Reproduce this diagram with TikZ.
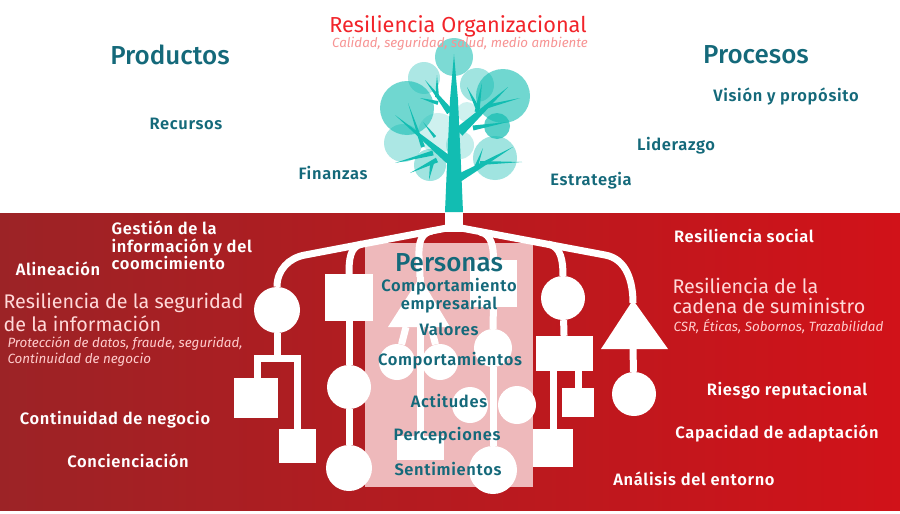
\documentclass[tikz,border=0pt]{standalone}
\usepackage{fontspec}
\setmainfont{Fira Sans}
\newfontfamily\labelface[LetterSpace=4,BoldFont={Fira Sans SemiBold}]{Fira Sans}
\newfontfamily\headface[BoldFont={Fira Sans Medium}]{Fira Sans}
\usetikzlibrary{calc}
\definecolor{tealtree}{HTML}{12BDB2}
\definecolor{tealtext}{HTML}{14697A}
\definecolor{redtitle}{HTML}{F2242A}
\definecolor{redsub}{HTML}{F79494}
\definecolor{redbg}{HTML}{D11219}
\definecolor{redmid}{HTML}{CD141A}
\definecolor{redleft}{HTML}{9C2326}
\definecolor{palebox}{HTML}{EEB9BB}
\tikzset{
	leaf/.style={circle,fill=tealtree,inner sep=0pt},
	ball/.style={circle,fill=white,inner sep=0pt},
	block/.style={fill=white,inner sep=0pt},
	stem/.style={draw=white,line width=7pt},
	tealhead/.style={text=tealtext,font=\headface\fontsize{26}{28}\selectfont\bfseries},
	teallabel/.style={text=tealtext,font=\labelface\fontsize{16.5}{18}\selectfont\bfseries},
	whitelabel/.style={text=white,font=\labelface\fontsize{16.5}{17.5}\selectfont\bfseries},
	palehead/.style={text=white!85!red,font=\fontsize{19.7}{23}\selectfont},
	palesub/.style={text=white!80!red,font=\fontsize{13.4}{16}\selectfont\itshape},
}
\begin{document}
\begin{tikzpicture}[x=1pt,y=-1pt]
			\useasboundingbox (0,0) rectangle (900,514);
			
			%%%%% BACKGROUND %%%%%
			\fill[white] (0,0) rectangle (900,514);
			\shade[left color=redleft,middle color=redmid,right color=redbg] (0,213) rectangle (900,510);
			\fill[palebox] (365,243) rectangle (533,487);
			
			%%%%% TREE %%%%%
			\foreach \nm/\cx/\cy/\rr/\op in {la/424/78/16/0.35,lb/477/85/17/0.4,lc/467/112/10/0.2,ld/438/133/20/0.2,le/403/143/19/0.35,lf/430/165/16/0.4,lg/460/145/14/0.25,lh/495/158/22/0.4,li/454/57/19/0.55,lj/503/96/27/0.6,lk/407/108/27/0.6,ll/497/126/13/0.7}
				\node[leaf,opacity=\op,minimum size=2*\rr pt] (\nm) at (\cx,\cy) {};
			
			\fill[tealtree] (445,212) -- (447,165) -- (450,100) -- (454,54) -- (458,100) -- (461,165) -- (463,212) -- cycle;
			\foreach \xa/\ya/\xb/\yb/\wd in {449/160/395/115/4,423/147/408/103/2,433/153/395/163/2.5,437/160/410/173/2.5,432/163/429/180/2,435/137/423/122/1.5,450/112/425/80/3.5,438/103/420/98/2,437/97/437/75/2,459/132/508/87/5,485/107/520/98/2,477/112/482/83/2.5,477/107/467/87/2,473/128/508/122/2.5,459/178/513/147/4,480/163/522/162/2,475/170/483/148/2}
				\fill[tealtree] ($(\xa,\ya)!\wd pt!90:(\xb,\yb)$) -- (\xb,\yb) -- ($(\xa,\ya)!\wd pt!-90:(\xb,\yb)$) -- cycle;
			
			%%%%% ROOTS %%%%%
			\coordinate (rootl) at (447,228);
			\coordinate (rootr) at (461,228);
			\fill[white] (445,213) rectangle (463,232);
			
			% left side
			\node[ball,minimum size=46pt] (ballA) at (277,310) {};
			\node[block,minimum width=44pt,minimum height=40pt] (squareA) at (256,398) {};
			\node[block,minimum width=37pt,minimum height=34pt] (squareB) at (297.5,446) {};
			\coordinate (barA) at (277,358);
			\node[block,minimum width=48pt,minimum height=47pt] (squareC) at (349,297.5) {};
			\node[ball,minimum size=44pt] (ballB) at (349,387) {};
			\node[ball,minimum size=46pt] (ballC) at (349,468) {};
			
			\draw[stem] (rootl) -- (305,255) to[out=190,in=90] (ballA.north);
			\draw[stem] (ballA) -- (barA);
			\draw[stem] (257,398) |- (barA) -| (297.5,446);
			\draw[stem] (362,244) to[out=190,in=90] (squareC.north);
			\draw[stem] (squareC) -- (ballB);
			\draw[stem] (ballB) -- (ballC);
			
			% centre left
			\coordinate (triC) at (420,277);
			\fill[white] (triC) -- (388,327) -- (450,327) -- cycle;
			\node[ball,minimum size=36pt] (ballD) at (397,362) {};
			\node[ball,minimum size=36pt] (ballE) at (440,362) {};
			\node[block,minimum width=47pt,minimum height=24pt] (squareD) at (420,448) {};
			\draw[stem] (432,231) to[out=190,in=90] (triC);
			\draw[stem] (triC) -- (squareD);
			\draw[stem] (406,327) -- (ballD);
			\draw[stem] (431,327) -- (ballE);
			
			% centre right
			\node[block,minimum width=47pt,minimum height=47pt] (squareE) at (493.5,283.5) {};
			\node[ball,minimum size=38pt] (ballF) at (493,348) {};
			\node[ball,minimum size=36pt] (ballG) at (470,405) {};
			\node[ball,minimum size=38pt] (ballH) at (517,405) {};
			\node[ball,minimum size=48pt] (ballI) at (493,470) {};
			\draw[stem] (480,232) to[out=-10,in=90] (squareE.north);
			\draw[stem] (squareE) -- (ballF);
			\draw[stem] (ballF) -- (ballI);
			
			% right side
			\node[ball,minimum size=44pt] (ballJ) at (563,298) {};
			\node[block,minimum width=57pt,minimum height=35pt] (squareF) at (564.5,353.5) {};
			\node[block,minimum width=40pt,minimum height=38pt] (squareG) at (553,448) {};
			\node[block,minimum width=32pt,minimum height=29pt] (squareH) at (578,402.5) {};
			\coordinate (triR) at (633,303);
			\fill[white] (633,300) -- (601,349) -- (668,349) -- cycle;
			\node[ball,minimum size=44pt] (ballK) at (634,394) {};
			
			\draw[stem] (rootr) -- (605,255) to[out=-10,in=90] (triR);
			\draw[stem] (548,244) to[out=-10,in=90] (ballJ.north);
			\draw[stem] (ballJ) -- (squareF);
			\draw[stem] (553,371) -- (squareG);
			\draw[stem] (578,371) -- (squareH);
			\draw[stem] (633,349) -- (ballK);
			
			%%%%% TEXT TOP %%%%%
			\node[text=redtitle,font=\fontsize{21.7}{23}\selectfont] (title) at (458,26) {Resiliencia Organizacional};
			\node[text=redsub,font=\fontsize{13.3}{15}\selectfont\itshape] (subtitle) at (460,44) {Calidad, seguridad, salud, medio ambiente};
			\node[tealhead] (productos) at (170,55) {Productos};
			\node[tealhead] (procesos) at (756,55) {Procesos};
			\node[teallabel] (recursos) at (186,124) {Recursos};
			\node[teallabel] (vision) at (786,96) {Visión y propósito};
			\node[teallabel] (liderazgo) at (676,146) {Liderazgo};
			\node[teallabel] (finanzas) at (333,173) {Finanzas};
			\node[teallabel] (estrategia) at (591,181) {Estrategia};
			
			%%%%% TEXT LEFT %%%%%
			\node[whitelabel,anchor=west,align=left] (gestion) at (108,245.5) {Gestión de la\\información y del\\coomcimiento};
			\node[whitelabel] (alineacion) at (58,269) {Alineación};
			\node[palehead,anchor=west,align=left] (seginfo) at (0,312.5) {Resiliencia de la seguridad\\de la información};
			\node[palesub,anchor=west,align=left] (proteccion) at (4,352) {Protección de datos, fraude, seguridad,\\Continuidad de negocio};
			\node[whitelabel] (continuidad) at (115,420) {Continuidad de negocio};
			\node[whitelabel] (concienciacion) at (128,461) {Concienciación};
			
			%%%%% TEXT CENTRE %%%%%
			\node[tealhead] (personas) at (449,263) {Personas};
			\node[teallabel,align=center,font=\labelface\fontsize{16.5}{16}\selectfont\bfseries] (empresarial) at (449,296) {Comportamiento\\empresarial};
			\node[teallabel] (valores) at (449,329) {Valores};
			\node[teallabel] (comportamientos) at (450,361) {Comportamientos};
			\node[teallabel] (actitudes) at (449,401) {Actitudes};
			\node[teallabel] (percepciones) at (447,436) {Percepciones};
			\node[teallabel] (sentimientos) at (448,469) {Sentimientos};
			
			%%%%% TEXT RIGHT %%%%%
			\node[whitelabel] (social) at (744,236) {Resiliencia social};
			\node[palehead,anchor=west,align=left,font=\fontsize{19.7}{20}\selectfont] (cadena) at (669,296) {Resiliencia de la\\cadena de suministro};
			\node[palesub] (csr) at (778.5,327) {CSR, Éticas, Sobornos, Trazabilidad};
			\node[whitelabel] (riesgo) at (787,391) {Riesgo reputacional};
			\node[whitelabel] (capacidad) at (777,433) {Capacidad de adaptación};
			\node[whitelabel] (analisis) at (694,479) {Análisis del entorno};
		\end{tikzpicture}
\end{document}
